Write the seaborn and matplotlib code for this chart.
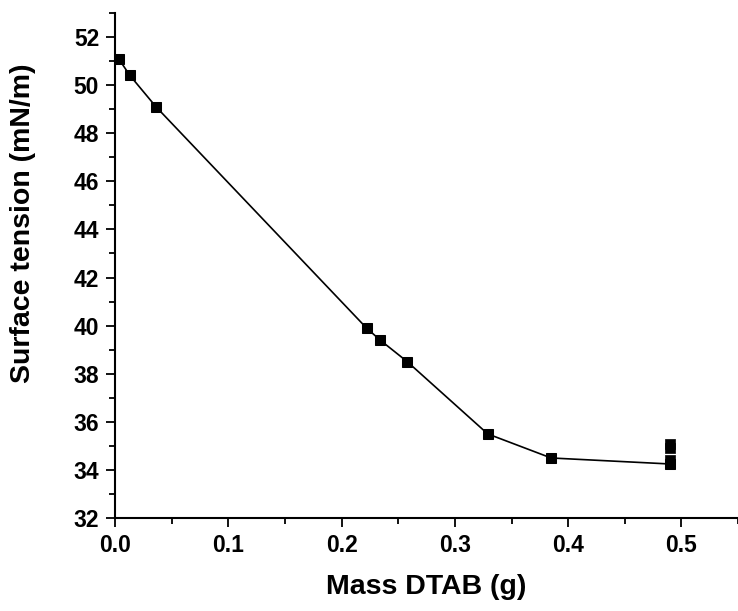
import pandas as pd
import matplotlib.pyplot as plt
import seaborn as sns
from matplotlib.ticker import MultipleLocator

# datos
masa = [0.003, 0.013, 0.036, 0.222, 0.234, 0.258, 0.329, 0.385, 0.490]
tension = [51.1, 50.4, 49.1, 39.9, 39.4, 38.5, 35.5, 34.5, 34.25]
masa_extra = [0.490, 0.490, 0.490]
tension_extra = [34.42, 34.92, 35.08]

df = pd.DataFrame({"masa": masa, "tension": tension})
extra = pd.DataFrame({"masa": masa_extra, "tension": tension_extra})

sns.set_style("ticks")
plt.rcParams['font.family'] = ['Liberation Sans', 'DejaVu Sans']
plt.rcParams['font.weight'] = 'bold'
plt.rcParams['text.color'] = 'black'
plt.rcParams['axes.labelcolor'] = 'black'

fig = plt.figure(figsize=(7.38, 6.11), dpi=100)
ax = fig.add_axes([0.156, 0.152, 0.844, 0.827])

sns.lineplot(x="masa", y="tension", data=df, ax=ax, color="black", linewidth=1.2,
             marker="s", markersize=7.5, markeredgecolor="black", sort=False)
sns.scatterplot(x="masa", y="tension", data=extra, ax=ax, color="black",
                marker="s", s=56, edgecolor="black", linewidth=0.5, zorder=3)

ax.set_xlim(0, 0.55)
ax.set_ylim(32, 53)
ax.xaxis.set_major_locator(MultipleLocator(0.1))
ax.xaxis.set_minor_locator(MultipleLocator(0.05))
ax.yaxis.set_major_locator(MultipleLocator(2))
ax.yaxis.set_minor_locator(MultipleLocator(1))
ax.xaxis.set_major_formatter(plt.FuncFormatter(lambda v, p: "%.1f" % v))

ax.tick_params(which="major", length=6.5, width=1.3, labelsize=16.5, colors="black", pad=5)
ax.tick_params(which="minor", length=4.3, width=1.3, colors="black")
for s in ["left", "bottom"]:
    ax.spines[s].set_linewidth(1.5)
    ax.spines[s].set_color("black")
sns.despine(ax=ax)

ax.set_xlabel("Mass DTAB (g)", fontsize=20.5, fontweight="bold", labelpad=12)
ax.set_ylabel("Surface tension (mN/m)", fontsize=20.5, fontweight="bold")
ax.yaxis.set_label_coords(-0.127, 0.583)

plt.savefig("out.png", dpi=100)
